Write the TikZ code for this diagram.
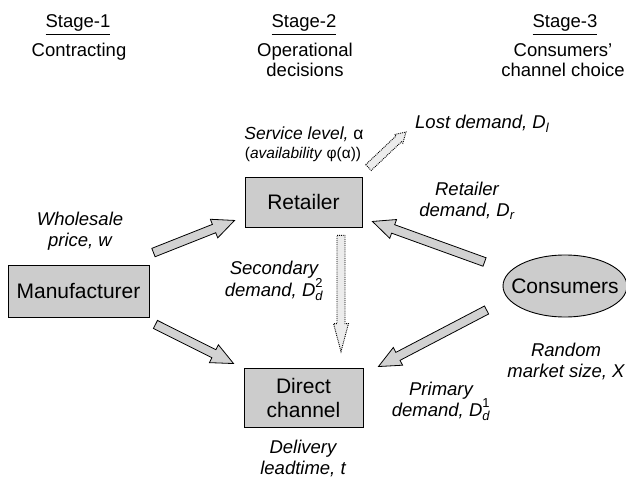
\documentclass[tikz,border=0pt]{standalone}
\usepackage{amsmath}
\usepackage{fontspec}
\setmainfont{Liberation Sans}
\usetikzlibrary{calc,shapes.geometric}

% block arrow: style, tail, tip, shaft half width, head half width, head length (pt)
\newcommand\fatarrow[6]{%
  \draw[#1] let \p1=(#2), \p2=(#3),
      \n1={atan2(\y2-\y1,\x2-\x1)},
      \n2={veclen(\x2-\x1,\y2-\y1)-#6}
    in ($(\p1)+(\n1+90:#4)$)
    -- ($(\p1)+(\n1:\n2)+(\n1+90:#4)$)
    -- ($(\p1)+(\n1:\n2)+(\n1+90:#5)$)
    -- (\p2)
    -- ($(\p1)+(\n1:\n2)+(\n1-90:#5)$)
    -- ($(\p1)+(\n1:\n2)+(\n1-90:#4)$)
    -- ($(\p1)+(\n1-90:#4)$) -- cycle;}

\newcommand\Dsub[1]{$\text{\itshape D}_{\text{\itshape #1}}$}
\newcommand\Dsubsup[2]{$\text{\itshape D}^{\text{\upshape #2}}_{\text{\itshape #1}}$}

\begin{document}
\begin{tikzpicture}[x=1pt,y=-1pt,
  box/.style={draw, line width=0.9pt, fill=gray!40, inner sep=0pt,
    font=\fontsize{21}{24}\selectfont, align=center},
  lbl/.style={inner sep=0pt, align=center, font=\fontsize{18.5}{21}\selectfont\itshape},
  head/.style={inner sep=0pt, align=center, font=\fontsize{18.5}{20}\selectfont},
  solidarrow/.style={line width=0.8pt, fill=gray!35, line join=miter},
  dotarrow/.style={line width=0.9pt, densely dotted, fill=gray!15}]
\useasboundingbox (0,0) rectangle (626,478);

% stage headings
\node[head, anchor=base] (s1) at (78,28) {\underline{Stage-1}};
\node[head, anchor=base] (s1t) at (79,57) {Contracting};
\node[head, anchor=base] (s2) at (304,28) {\underline{Stage-2}};
\node[head] (s2t) at (305,60) {Operational\\decisions};
\node[head, anchor=base] (s3) at (565,28) {\underline{Stage-3}};
\node[head] (s3t) at (563,60) {Consumers'\\channel choice};

% players
\node[box, minimum width=141pt, minimum height=52pt] (man) at (78.5,291) {Manufacturer};
\node[box, minimum width=117pt, minimum height=50pt] (ret) at (303.5,202) {Retailer};
\node[box, minimum width=119pt, minimum height=59pt] (dir) at (303.5,397.5) {Direct\\channel};
\node[box, ellipse, minimum width=124pt, minimum height=62pt] (con) at (565,286)
  {\makebox[0pt]{Consumers}};

% decision and demand labels
\node[inner sep=0pt, anchor=base, font=\fontsize{17.5}{20}\selectfont\itshape] (svc) at (304,140) {Service level, \textup{α}};
\node[inner sep=0pt, anchor=base, font=\fontsize{15.5}{18}\selectfont] (avl) at (303,159) {(\textit{availability} φ(α))};
\node[lbl, anchor=base west] (lost) at (415,129) {Lost demand, \Dsub{l}};
\node[lbl] (whl) at (80,231) {Wholesale\\price, \textit{w}};
\node[lbl] (rdm) at (467,201) {Retailer\\demand, \Dsub{r}};
\node[lbl] (sdm) at (274,281) {Secondary\\demand, \Dsubsup{d}{2}};
\node[lbl] (pdm) at (441,401) {Primary\\demand, \Dsubsup{d}{1}};
\node[lbl] (dlt) at (303,458) {Delivery\\leadtime, \textit{t}};
\node[lbl] (rms) at (566,361) {Random\\market size, \textit{X}};

% arrow end points
\coordinate (mr-s) at ($(man.north east)+(4,-12)$);
\coordinate (mr-e) at ($(ret.south west)+(-10,-7)$);
\coordinate (md-s) at ($(man.south east)+(6,7)$);
\coordinate (md-e) at ($(dir.north west)+(-10,-4)$);
\coordinate (cr-s) at ($(con.west)+(-18,-24)$);
\coordinate (cr-e) at ($(ret.south east)+(10,-6)$);
\coordinate (cd-s) at ($(con.west)+(-16,24)$);
\coordinate (cd-e) at ($(dir.north east)+(15,-1)$);
\coordinate (rd-s) at ($(ret.south)+(37.5,8)$);
\coordinate (rd-e) at ($(dir.north)+(37.5,-16)$);
\coordinate (rl-s) at ($(ret.north east)+(6,-9)$);
\coordinate (rl-e) at ($(lost.base west)+(-9,3)$);

% flows
\fatarrow{solidarrow}{mr-s}{mr-e}{4.5pt}{10pt}{22}
\fatarrow{solidarrow}{md-s}{md-e}{4.5pt}{10pt}{22}
\fatarrow{solidarrow}{cr-s}{cr-e}{4.5pt}{10pt}{22}
\fatarrow{solidarrow}{cd-s}{cd-e}{4.5pt}{10pt}{22}
\fatarrow{dotarrow}{rd-s}{rd-e}{4pt}{7.5pt}{28}
\fatarrow{dotarrow}{rl-s}{rl-e}{4pt}{6pt}{10}
\end{tikzpicture}
\end{document}
